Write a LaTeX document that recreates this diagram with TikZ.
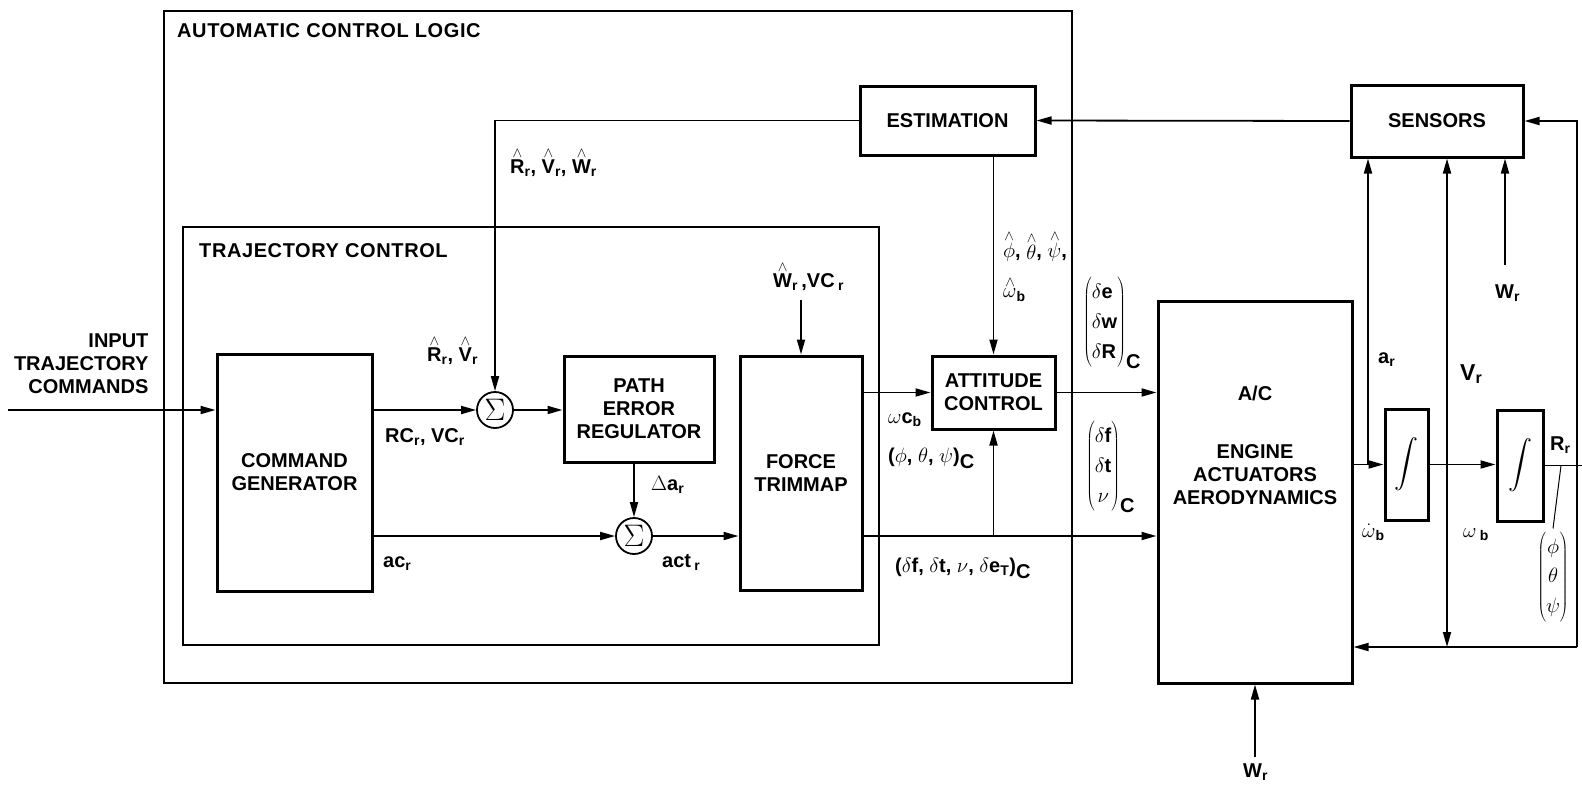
\documentclass[tikz,border=0pt]{standalone}
\usepackage[no-math]{fontspec}
\setmainfont{Liberation Sans}
\newfontfamily\titlefont[LetterSpace=3]{Liberation Sans}
\usepackage{graphicx}
\usetikzlibrary{arrows.meta}

\newcommand{\hsym}[1]{$\stackrel{\wedge}{\mbox{#1}}$}
\newcommand{\hgr}[1]{$\stackrel{\wedge}{#1}$}
\newcommand{\rsub}{\textsubscript{r}}
\newcommand{\intgl}{\scalebox{2.4}{$\displaystyle\int$}}
\renewcommand{\arraystretch}{1.3}

\begin{document}
\begin{tikzpicture}[x=1pt,y=-1pt]
  \tikzset{every node/.style={font=\fontsize{20}{23}\selectfont\bfseries},
    lbl/.style={anchor=base west,inner xsep=0pt},
    block/.style={draw,line width=3pt,align=center,inner sep=0pt},
    sumnode/.style={draw,circle,line width=1.8pt,minimum size=36pt,inner sep=0pt},
    frame/.style={line width=1.3pt},
    wire/.style={line width=1.8pt},
    sig/.style={wire,-{Triangle[length=15pt,width=8pt]}}}

  \useasboundingbox (0,0) rectangle (1582,785);

  % Frames
  \draw[frame] (164,11) rectangle (1072,683);
  \draw[frame] (183,227) rectangle (879,645);
  \node[lbl,font=\fontsize{20}{23}\titlefont\bfseries] (acltitle) at (177,37) {AUTOMATIC CONTROL LOGIC};
  \node[lbl,font=\fontsize{20}{23}\titlefont\bfseries] (trjtitle) at (199,257) {TRAJECTORY CONTROL};

  % Blocks
  \node[block,minimum width=155pt,minimum height=237pt] (cmd) at (294.5,472.5) {COMMAND\\GENERATOR};
  \node[block,minimum width=150pt,minimum height=106pt] (per) at (639,409) {PATH\\ERROR\\REGULATOR};
  \node[block,minimum width=122pt,minimum height=234pt] (ftm) at (801,473) {FORCE\\TRIMMAP};
  \node[block,minimum width=175pt,minimum height=69pt] (est) at (947.5,120.5) {ESTIMATION};
  \node[block,minimum width=123pt,minimum height=73pt] (att) at (993.5,392.5) {ATTITUDE\\CONTROL};
  \node[block,minimum width=194pt,minimum height=382pt] (ac) at (1255,492) {};
  \node[align=center] (actext) at (1255,445) {A/C\\[35pt]ENGINE\\ACTUATORS\\AERODYNAMICS};
  \node[block,minimum width=172pt,minimum height=72pt] (sen) at (1437,121) {SENSORS};
  \node[block,minimum width=43pt,minimum height=111pt] (int1) at (1406.5,464.5) {\intgl};
  \node[block,minimum width=46pt,minimum height=111pt] (int2) at (1520,465.5) {\intgl};

  % Summing junctions
  \node[sumnode] (sum1) at (495,410) {\scalebox{1.5}{$\Sigma$}};
  \node[sumnode] (sum2) at (634,536) {\scalebox{1.5}{$\Sigma$}};

  % Input
  \node[align=right,anchor=east] (input) at (152,364) {INPUT\\TRAJECTORY\\COMMANDS};
  \coordinate (inl) at (8,410);
  \draw[sig] (inl) -- (cmd.west |- inl);

  % Trajectory control signals
  \draw[sig] (cmd.east |- sum1) -- (sum1.west);
  \draw[sig] (sum1.east) -- (per.west |- sum1);
  \draw[sig] (est.west) -| (sum1.north);
  \draw[sig] (cmd.east |- sum2) -- (sum2.west);
  \draw[sig] (per.south -| sum2) -- (sum2.north);
  \draw[sig] (sum2.east) -- (ftm.west |- sum2);
  \node[lbl] (wvc) at (773,287) {\hsym{W}\rsub\,,VC\,\rsub};
  \draw[sig] ([yshift=-6pt]wvc.south -| ftm.north) -- (ftm.north);

  % Attitude loop
  \draw[sig] (ftm.east |- att) -- (att.west);
  \draw[sig] (ftm.east |- sum2) -- (ac.west |- sum2);
  \draw[sig] (att.south |- sum2) -- (att.south);
  \draw[sig] (att.east) -- (ac.west |- att);
  \draw[sig] (att.north |- est.south) -- (att.north);
  \draw[sig] (sen.west) -- (est.east);

  % Vehicle dynamics and feedback
  \coordinate (ja) at (1368,464.5);
  \coordinate (jv) at (1447,464.5);
  \coordinate (fb) at (1577,647);
  \coordinate (rend) at (1582,465.5);
  \coordinate (rtap) at (1561,465.5);
  \draw[sig] (ac.east |- int1) -- (int1.west);
  \draw[sig] (ja) -- (ja |- sen.south);
  \draw[sig] (int1.east) -- (int2.west |- int1);
  \draw[sig] (jv) -- (jv |- sen.south);
  \draw[sig] (jv) -- (jv |- fb);
  \draw[wire] (int2.east) -- (rend);
  \draw[sig] (fb) |- (sen.east);
  \draw[sig] (fb) -- (ac.east |- fb);

  % Disturbance inputs
  \node[lbl] (wr1) at (1495,298) {W\rsub};
  \coordinate (wt) at (1505,265);
  \draw[sig] (wt) -- (wt |- sen.south);
  \node[lbl] (wr2) at (1243,777) {W\rsub};
  \draw[sig] ([yshift=3pt]wr2.north -| ac.south) -- (ac.south);

  % Signal labels
  \node[lbl] (rvw) at (510,173) {\hsym{R}\rsub, \hsym{V}\rsub, \hsym{W}\rsub};
  \node[lbl] (rv) at (427,361) {\hsym{R}\rsub, \hsym{V}\rsub};
  \node[lbl] (rcvc) at (385,442) {RC\rsub, VC\rsub};
  \node[lbl] (acr) at (383,567) {ac\rsub};
  \node[lbl] (dar) at (651,490) {$\Delta$a\rsub};
  \node[lbl] (actr) at (662,567) {act\,\rsub};
  \node[lbl] (angh) at (1003,257) {\hgr{\phi}, \hgr{\theta}, \hgr{\psi},};
  \node[lbl] (omh) at (1003,298) {\hgr{\omega}\textsubscript{b}};
  \node[lbl] (omc) at (888,423) {$\omega$c\textsubscript{b}};
  \node[lbl] (angc) at (888,462) {($\phi$, $\theta$, $\psi$)$_{\mbox{C}}$};
  \node[lbl] (dft) at (895,572) {($\delta$f, $\delta$t, $\nu$, $\delta$e\textsubscript{T})$_{\mbox{C}}$};
  \node[anchor=west,inner xsep=0pt] (dew) at (1083,323) {$\left(\begin{array}{@{}l@{}}\delta\mbox{e}\\ \delta\mbox{w}\\ \delta\mbox{R}\end{array}\right)_{\mbox{C}}$};
  \node[anchor=west,inner xsep=0pt] (dfn) at (1086,467) {$\left(\begin{array}{@{}c@{}}\delta\mbox{f}\\ \delta\mbox{t}\\ \nu\end{array}\right)_{\mbox{C}}$};
  \node[lbl] (ar) at (1378,363) {a\rsub};
  \node[lbl,font=\fontsize{23}{26}\selectfont\bfseries] (vr) at (1460,380) {V\rsub};
  \node[lbl] (omd) at (1362,537) {$\dot\omega$\textsubscript{b}};
  \node[lbl] (omb) at (1463,537) {$\omega$\,\textsubscript{b}};
  \node[lbl] (rr) at (1550,450) {R\rsub};
  \node (ang) at (1553,577) {$\left(\begin{array}{@{}c@{}}\phi\\ \theta\\ \psi\end{array}\right)$};
  \draw[line width=1pt] (rtap) -- (ang.north);
\end{tikzpicture}
\end{document}
